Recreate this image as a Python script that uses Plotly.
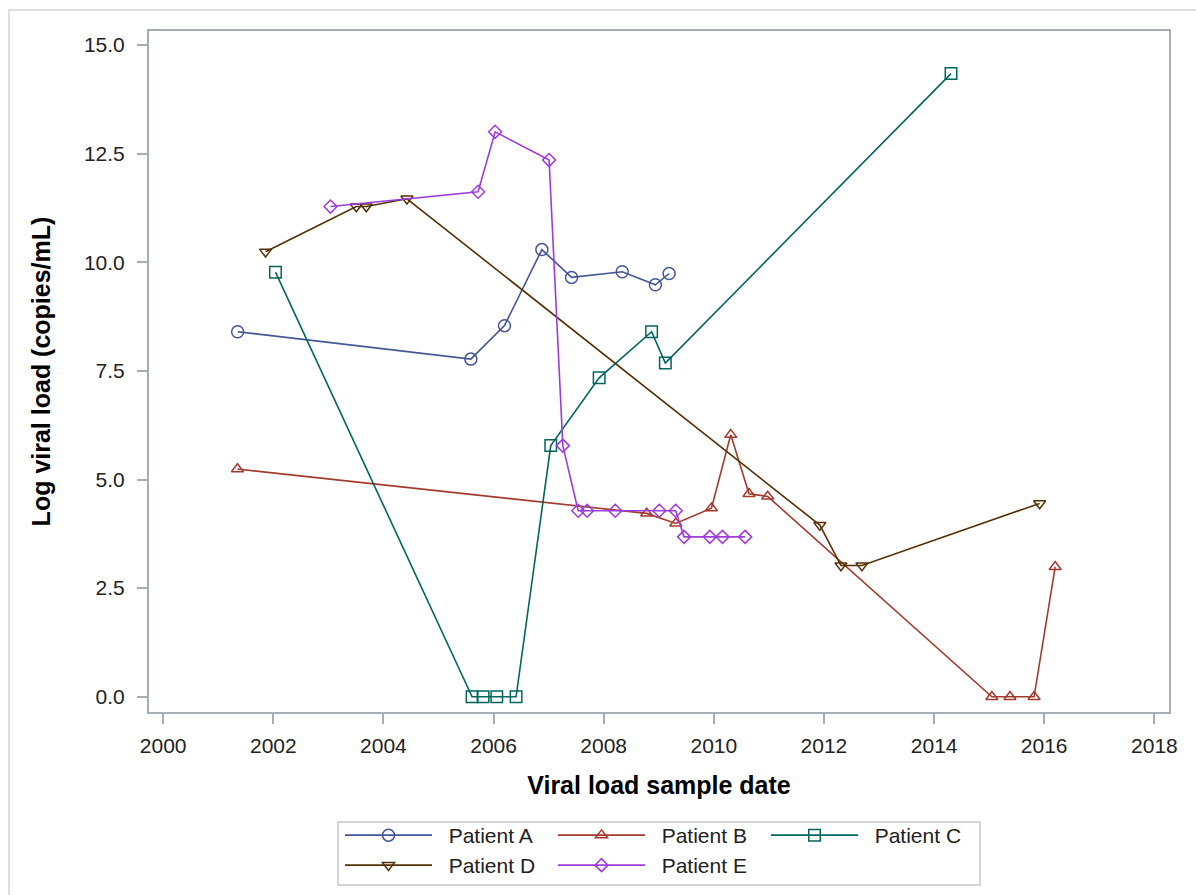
import plotly.graph_objects as go

# Viral load measurements per patient (sample date, log copies/mL)
a_dates = ["2001-05-09", "2005-08-03", "2006-03-14", "2006-11-17", "2007-06-02",
           "2008-05-03", "2008-12-09", "2009-03-10"]
a_vals = [8.40, 7.77, 8.54, 10.29, 9.65, 9.78, 9.48, 9.74]

b_dates = ["2001-05-08", "2008-10-12", "2009-04-23", "2009-12-16", "2010-04-23",
           "2010-08-22", "2010-12-24", "2015-01-19", "2015-05-19", "2015-10-26",
           "2016-03-14"]
b_vals = [5.24, 4.22, 3.99, 4.34, 6.03, 4.67, 4.61, 0.0, 0.0, 0.0, 2.99]

c_dates = ["2002-01-15", "2005-08-11", "2005-10-23", "2006-01-22", "2006-05-30",
           "2007-01-15", "2007-12-02", "2008-11-14", "2009-02-13", "2014-04-23"]
c_vals = [9.77, 0.0, 0.0, 0.0, 0.0, 5.78, 7.34, 8.40, 7.68, 14.34]

d_dates = ["2001-11-10", "2003-07-05", "2003-09-09", "2004-06-05", "2011-12-05",
           "2012-04-23", "2012-09-09", "2015-12-02"]
d_vals = [10.24, 11.28, 11.28, 11.46, 3.95, 3.02, 3.02, 4.45]

e_dates = ["2003-01-15", "2005-09-20", "2006-01-11", "2007-01-04", "2007-04-05",
           "2007-07-16", "2007-09-13", "2008-03-18", "2009-01-04", "2009-04-23",
           "2009-06-17", "2009-12-05", "2010-02-27", "2010-07-27"]
e_vals = [11.28, 11.62, 13.0, 12.35, 5.78, 4.28, 4.28, 4.28, 4.28, 4.28,
          3.68, 3.68, 3.68, 3.68]

patients = ["Patient A", "Patient B", "Patient C", "Patient D", "Patient E"]
colors = ["#445694", "#A23A2E", "#01665E", "#543005", "#9D3CDB"]
symbols = ["circle-open", "triangle-up-open", "square-open", "triangle-down-open",
           "diamond-open"]
sizes = [12, 10.5, 11.5, 10.5, 10]
# legend rows: A, B, C on the first row; D, E on the second
legend_rows = ["legend", "legend", "legend", "legend2", "legend2"]

x_ticks = ["2000-01-01", "2002-01-01", "2004-01-01", "2006-01-01", "2008-01-01",
           "2010-01-01", "2012-01-01", "2014-01-01", "2016-01-01", "2018-01-01"]
x_tick_labels = ["2000", "2002", "2004", "2006", "2008", "2010", "2012", "2014",
                 "2016", "2018"]
y_ticks = [0.0, 2.5, 5.0, 7.5, 10.0, 12.5, 15.0]

series = [(a_dates, a_vals), (b_dates, b_vals), (c_dates, c_vals),
          (d_dates, d_vals), (e_dates, e_vals)]

FONT = "Liberation Sans, Arial, sans-serif"
AXIS_COLOR = "#a7aeb3"
GAP = "\u00a0\u00a0"  # small gap between legend line sample and label

W, H = 1196, 895
L, R, T, B = 149, 27, 31, 183
PW, PH = W - L - R, H - T - B


def px_x(p):
    return (p - L) / PW


def px_y(p):
    return (H - B - p) / PH


fig = go.Figure()
for (dates, vals), name, col, sym, sz, lg in zip(series, patients, colors, symbols,
                                                 sizes, legend_rows):
    fig.add_trace(go.Scatter(
        x=dates, y=vals, name=GAP + name, mode="lines+markers", legend=lg,
        line=dict(color=col, width=1.6),
        marker=dict(symbol=sym, size=sz, color=col, line=dict(color=col, width=1.5)),
    ))

legend_common = dict(
    orientation="h", xref="paper", x=px_x(340), xanchor="left",
    yref="container", yanchor="top",
    borderwidth=0, bgcolor="rgba(0,0,0,0)",
    font=dict(family=FONT, size=21, color="#222222"),
    itemwidth=87, entrywidth=111, entrywidthmode="pixels",
    traceorder="normal", itemclick=False, itemdoubleclick=False,
)

fig.update_layout(
    width=W, height=H,
    margin=dict(l=L, r=R, t=T, b=B, autoexpand=False),
    paper_bgcolor="white", plot_bgcolor="white",
    font=dict(family=FONT, size=21, color="#222222"),
    showlegend=True,
    legend=dict(legend_common, y=(H - 815) / H),
    legend2=dict(legend_common, y=(H - 845) / H),
    xaxis=dict(
        type="date", automargin=False,
        range=["1999-09-29", "2018-04-08"],
        tickmode="array", tickvals=x_ticks, ticktext=x_tick_labels,
        ticks="outside", ticklen=10, tickwidth=1.5, tickcolor=AXIS_COLOR,
        showline=True, linecolor=AXIS_COLOR, linewidth=2, mirror=True,
        showgrid=False, zeroline=False,
        tickfont=dict(family=FONT, size=21, color="#222222"),
        ticklabelstandoff=4,
        title=dict(text="<b>Viral load sample date</b>", standoff=20,
                   font=dict(family=FONT, size=25, color="#000000")),
    ),
    yaxis=dict(
        automargin=False,
        range=[-0.35, 15.32],
        tickmode="array", tickvals=y_ticks, ticktext=[f"{v:.1f}" for v in y_ticks],
        ticks="outside", ticklen=10, tickwidth=1.5, tickcolor=AXIS_COLOR,
        showline=True, linecolor=AXIS_COLOR, linewidth=2, mirror=True,
        showgrid=False, zeroline=False,
        tickfont=dict(family=FONT, size=21, color="#222222"),
        ticklabelstandoff=8,
        title=dict(text="<b>Log viral load (copies/mL)</b>", standoff=26,
                   font=dict(family=FONT, size=25, color="#000000")),
    ),
    shapes=[
        # outer frame around the whole graphic
        dict(type="rect", xref="paper", yref="paper",
             x0=px_x(9), x1=px_x(1205), y0=px_y(905), y1=px_y(10),
             line=dict(color="#d3d3d3", width=1.5), fillcolor="rgba(0,0,0,0)",
             layer="below"),
        # legend border
        dict(type="rect", xref="paper", yref="paper",
             x0=px_x(338), x1=px_x(980), y0=px_y(885), y1=px_y(822),
             line=dict(color="#c8c8c8", width=1.5), fillcolor="rgba(0,0,0,0)",
             layer="below"),
    ],
)

fig.write_html("out.html")
